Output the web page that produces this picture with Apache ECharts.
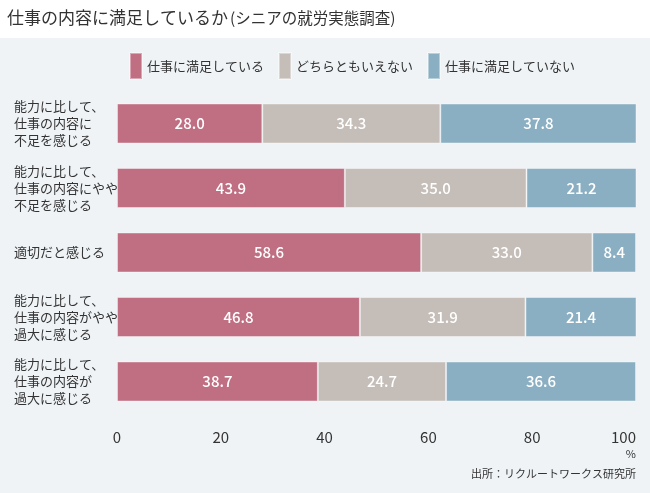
<!DOCTYPE html>
<html><head><meta charset="utf-8">
<script src="https://cdn.jsdelivr.net/npm/echarts@6/dist/echarts.min.js"></script>
<style>html,body{margin:0;padding:0;background:#fff}#c{width:650px;height:493px}</style>
</head><body><div id="c"></div>
<script>
const categories = [
  "能力に比して、\n仕事の内容に\n不足を感じる",
  "能力に比して、\n仕事の内容にやや\n不足を感じる",
  "適切だと感じる",
  "能力に比して、\n仕事の内容がやや\n過大に感じる",
  "能力に比して、\n仕事の内容が\n過大に感じる"
];
const seriesNames = ["仕事に満足している", "どちらともいえない", "仕事に満足していない"];
const satisfied = [28.0, 43.9, 58.6, 46.8, 38.7];
const neutral = [34.3, 35.0, 33.0, 31.9, 24.7];
const dissatisfied = [37.8, 21.2, 8.4, 21.4, 36.6];
const xTicks = [0, 20, 40, 60, 80, 100];
const colors = ["#c06e82", "#c5bdb8", "#8bafc2"];
const FONT = '"Noto Sans CJK JP", "Noto Sans", sans-serif';

const chart = echarts.init(document.getElementById('c'), null, {renderer: 'canvas'});
const mk = (name, data, i) => ({
  name, type: 'bar', stack: 'total', data, barWidth: 40,
  itemStyle: {color: colors[i], borderColor: 'rgba(255,255,255,0.4)', borderWidth: 1},
  label: {show: true, position: 'inside', color: '#fff', fontSize: 15, fontWeight: 500,
    fontFamily: FONT, formatter: p => p.value.toFixed(1)},
  emphasis: {disabled: true}
});
chart.setOption({
  animation: false,
  backgroundColor: '#fff',
  textStyle: {fontFamily: FONT},
  graphic: [
    {type: 'rect', z: -10, shape: {x: 0, y: 38, width: 650, height: 455}, style: {fill: '#eff3f6'}},
    {type: 'text', left: 7, top: 9, style: {
      text: '{a|仕事の内容に満足しているか}{b|(シニアの就労実態調査)}',
      rich: {a: {fontSize: 17, fill: '#333', fontFamily: FONT}, b: {fontSize: 15.5, fill: '#333', fontFamily: FONT, padding: [1, 0, 0, 2]}}
    }},
    {type: 'text', right: 14, top: 448, style: {text: '%', fontSize: 11, fill: '#333', fontFamily: FONT}},
    {type: 'text', right: 14, top: 468, style: {text: '出所：リクルートワークス研究所', fontSize: 11, fill: '#333', fontFamily: FONT}}
  ],
  legend: {
    left: 129, top: 52, padding: 0, itemWidth: 12, itemHeight: 26, itemGap: 14,
    icon: 'rect', data: seriesNames,
    textStyle: {fontSize: 13, color: '#333', fontFamily: FONT},
    selectedMode: false
  },
  grid: {left: 117, right: 14, top: 91.25, bottom: 79.25, containLabel: false},
  xAxis: {
    type: 'value', min: 0, max: 100, interval: 20,
    axisLine: {show: false}, axisTick: {show: false}, splitLine: {show: false},
    axisLabel: {fontSize: 15, color: '#333', margin: 16, fontFamily: FONT, alignMaxLabel: 'right',
      formatter: v => xTicks.includes(v) ? String(v) : ''}
  },
  yAxis: {
    type: 'category', data: categories, inverse: true,
    axisLine: {show: false}, axisTick: {show: false},
    axisLabel: {align: 'left', margin: 103, fontSize: 13, lineHeight: 17, color: '#333', fontFamily: FONT}
  },
  series: [mk(seriesNames[0], satisfied, 0), mk(seriesNames[1], neutral, 1), mk(seriesNames[2], dissatisfied, 2)]
});
</script></body></html>
